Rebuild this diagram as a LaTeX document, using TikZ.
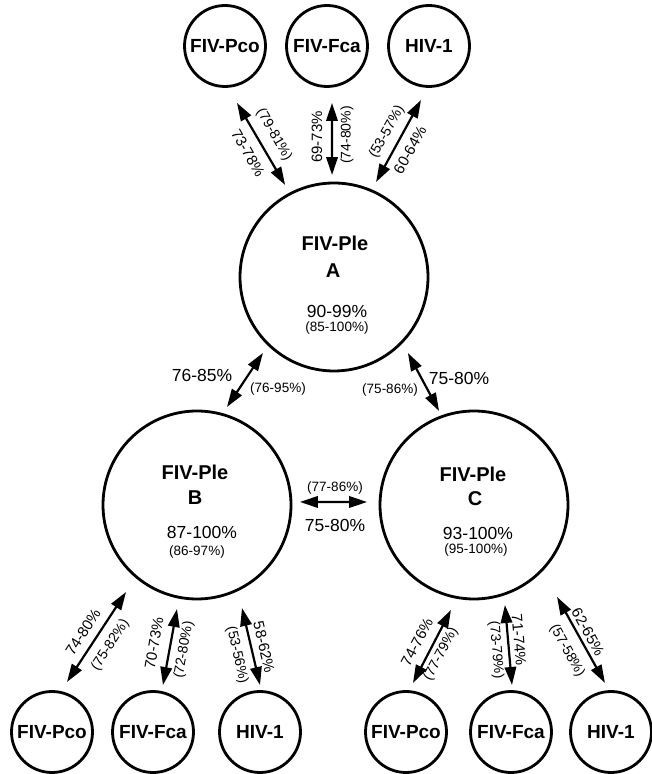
\documentclass[tikz,border=0pt]{standalone}
\usepackage{fontspec}
\setmainfont{Liberation Sans}
\usetikzlibrary{arrows.meta,calc}
\begin{document}
\begin{tikzpicture}[x=1pt,y=1pt,
  big/.style={circle,draw,line width=2.8pt,minimum size=188pt,inner sep=0pt},
  small/.style={circle,draw,line width=2.8pt,minimum size=81pt,inner sep=0pt,font=\fontsize{19}{21}\selectfont\bfseries},
  dbl/.style={line width=2.2pt,{Triangle[length=18pt,width=11.5pt]}-{Triangle[length=18pt,width=11.5pt]}},
  nm/.style={inner sep=0pt,font=\fontsize{20}{22}\selectfont\bfseries},
  pc/.style={inner sep=0pt,font=\fontsize{17.5}{19}\selectfont},
  pp/.style={inner sep=0pt,font=\fontsize{13.5}{15}\selectfont},
  rl/.style={inner sep=0pt,font=\fontsize{15}{17}\selectfont},
  rp/.style={inner sep=0pt,font=\fontsize{14}{16}\selectfont}]
\useasboundingbox (0,0) rectangle (652,774);
% circles
\node[small] (Pco1) at (225,728) {FIV-Pco};
\node[small] (Fca1) at (327,728) {FIV-Fca};
\node[small] (HIV1) at (429,728) {HIV-1};
\node[big] (A) at (334,497) {};
\node[big] (B) at (197,269) {};
\node[big] (C) at (474,269) {};
\node[small] (Pco2) at (52,42) {FIV-Pco};
\node[small] (Fca2) at (153,42) {FIV-Fca};
\node[small] (HIV2) at (260,42) {HIV-1};
\node[small] (Pco3) at (406,42) {FIV-Pco};
\node[small] (Fca3) at (511,42) {FIV-Fca};
\node[small] (HIV3) at (611,42) {HIV-1};
% texts in big circles
\node[nm] (An) at (335,531) {FIV-Ple};
\node[nm] (Al) at (333,503) {A};
\node[pc] (Ap) at (337,463) {90-99\%};
\node[pp] (Aq) at (337,446) {(85-100\%)};
\node[nm] (Bn) at (195,302) {FIV-Ple};
\node[nm] (Bl) at (195,276) {B};
\node[pc] (Bp) at (202,242) {87-100\%};
\node[pp] (Bq) at (197,222) {(86-97\%)};
\node[nm] (Cn) at (473,300) {FIV-Ple};
\node[nm] (Cl) at (475,275) {C};
\node[pc] (Cp) at (478,241) {93-100\%};
\node[pp] (Cq) at (476,224) {(95-100\%)};
% arrows
\draw[dbl] ($(A)+(118:104.2pt)$) -- ($(Pco1)+(-78.1:58.2pt)$);
\draw[dbl] ($(A)+(91.1:102pt)$) -- ($(Fca1)+(-85:57.2pt)$);
\draw[dbl] ($(A)+(66.1:103.9pt)$) -- ($(HIV1)+(-98.4:54.6pt)$);
\draw[dbl] ($(A)+(-133.1:104pt)$) -- ($(B)+(73:102.5pt)$);
\draw[dbl] ($(A)+(-45.8:106pt)$) -- ($(C)+(110.4:100.3pt)$);
\draw[dbl] ($(B)+(1.7:103pt)$) -- ($(C)+(178.4:107pt)$);
\draw[dbl] ($(B)+(-129.2:112.3pt)$) -- ($(Pco2)+(73.3:52.2pt)$);
\draw[dbl] ($(B)+(-100.9:105.9pt)$) -- ($(Fca2)+(78:48pt)$);
\draw[dbl] ($(B)+(-66.4:112.4pt)$) -- ($(HIV2)+(90:47pt)$);
\draw[dbl] ($(C)+(-102.4:107.5pt)$) -- ($(Pco3)+(81.9:49.5pt)$);
\draw[dbl] ($(C)+(-72.8:104.7pt)$) -- ($(Fca3)+(88.8:47pt)$);
\draw[dbl] ($(C)+(-47.9:123.9pt)$) -- ($(HIV3)+(97:49.4pt)$);
% labels top
\node[rl,rotate=-60] (t1a) at (248,621) {73-78\%};
\node[rp,rotate=-60] (t1b) at (274,639) {(79-81\%)};
\node[rl,rotate=90] (t2a) at (317,637) {69-73\%};
\node[rp,rotate=90] (t2b) at (347,639) {(74-80\%)};
\node[rp,rotate=61] (t3b) at (387,642) {(53-57\%)};
\node[rl,rotate=61] (t3a) at (410,624) {60-64\%};
% labels middle
\node[pc] (m1a) at (202,399) {76-85\%};
\node[pp] (m1b) at (278,385) {(76-95\%)};
\node[pp] (m2b) at (390,384) {(75-86\%)};
\node[pc] (m2a) at (459,396) {75-80\%};
\node[pp] (m3b) at (335,286) {(77-86\%)};
\node[pc] (m3a) at (335,249) {75-80\%};
% labels bottom
\node[rl,rotate=57] (b1a) at (83,142) {74-80\%};
\node[rp,rotate=57] (b1b) at (110.5,129) {(75-82\%)};
\node[rl,rotate=80] (b2a) at (154,131) {70-73\%};
\node[rp,rotate=80] (b2b) at (184,124) {(72-80\%)};
\node[rp,rotate=-77] (b3b) at (237,119) {(53-56\%)};
\node[rl,rotate=-77] (b3a) at (264,127) {58-62\%};
\node[rl,rotate=62] (b4a) at (417,132) {74-76\%};
\node[rp,rotate=62] (b4b) at (441,120) {(77-79\%)};
\node[rp,rotate=-85] (b5b) at (496,124) {(73-79\%)};
\node[rl,rotate=-85] (b5a) at (519,134) {71-74\%};
\node[rp,rotate=-61] (b6b) at (567,123) {(57-58\%)};
\node[rl,rotate=-61] (b6a) at (588,142) {62-65\%};
\end{tikzpicture}
\end{document}
